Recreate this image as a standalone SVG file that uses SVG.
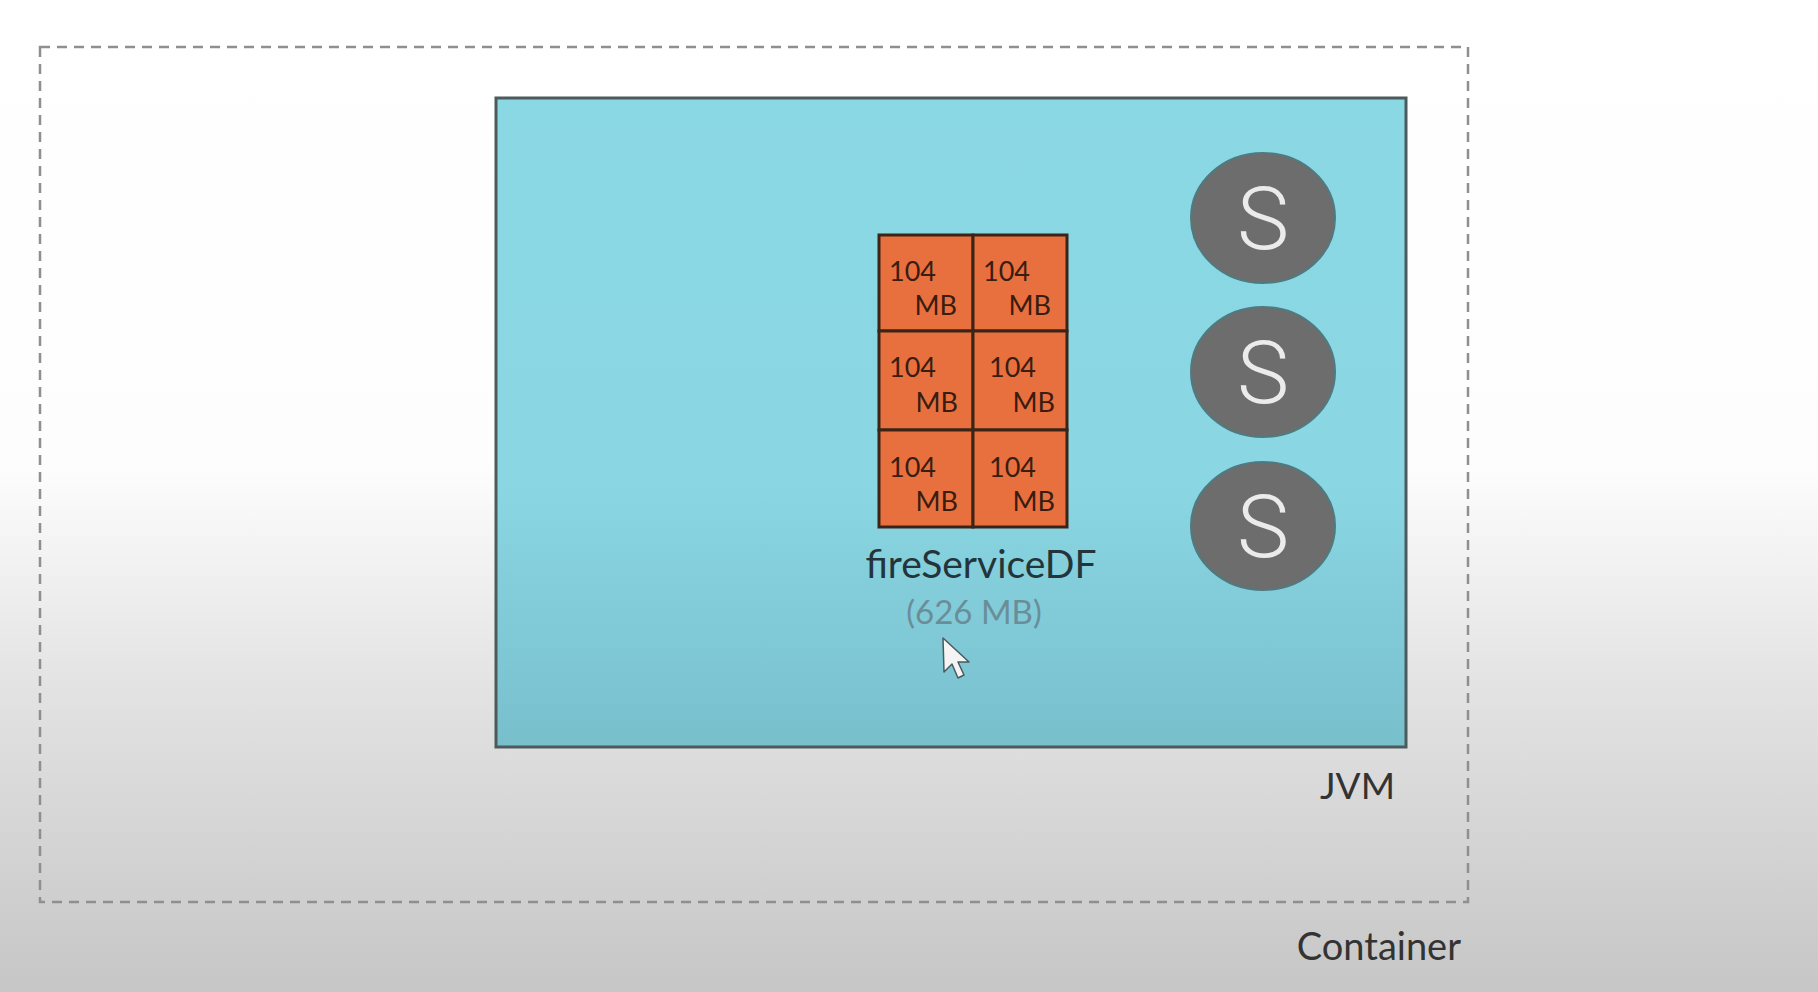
<svg xmlns="http://www.w3.org/2000/svg" width="1818" height="992" viewBox="0 0 1818 992">
<defs>
<linearGradient id="bg" x1="0" y1="0" x2="0" y2="992" gradientUnits="userSpaceOnUse">
<stop offset="0" stop-color="#ffffff"/>
<stop offset="0.47" stop-color="#fdfdfd"/>
<stop offset="0.7" stop-color="#e2e2e2"/>
<stop offset="1" stop-color="#c6c6c6"/>
</linearGradient>
<linearGradient id="jvmfill" x1="0" y1="98" x2="0" y2="748" gradientUnits="userSpaceOnUse">
<stop offset="0" stop-color="#8bd8e5"/>
<stop offset="0.6" stop-color="#8ad6e3"/>
<stop offset="1" stop-color="#78bfcc"/>
</linearGradient>
<style>
.lbl{font-family:Lato,"Open Sans","Liberation Sans",sans-serif;fill:#333333}
.cell{fill:#e8703f;stroke:#3b2417;stroke-width:3}
.ct{font-family:Lato,"Open Sans","Liberation Sans",sans-serif;font-size:27px;fill:#3a1d10}
.svc{fill:#6d6d6d;stroke:#4f7a80;stroke-width:2}
.st{font-family:Roboto,"Open Sans","Liberation Sans",sans-serif;font-weight:300;font-size:88px;fill:#ebebeb;text-anchor:middle}
</style>
</defs>
<rect x="0" y="0" width="1818" height="992" fill="url(#bg)"/>
<g id="container">
<rect x="40" y="47" width="1428" height="855" fill="none" stroke="#8f8f8f" stroke-width="2.5" stroke-dasharray="10,7"/>
<text class="lbl" x="1461" y="960" font-size="38" text-anchor="end">Container</text>
</g>
<g id="jvm">
<rect x="496" y="98" width="910" height="649" fill="url(#jvmfill)" stroke="#4d5a5c" stroke-width="3"/>
<text class="lbl" x="1395" y="799" font-size="37" text-anchor="end">JVM</text>
</g>
<g id="fireServiceDF">
<rect class="cell" x="879" y="235" width="94" height="96"/>
<rect class="cell" x="973" y="235" width="94" height="96"/>
<rect class="cell" x="879" y="331" width="94" height="99"/>
<rect class="cell" x="973" y="331" width="94" height="99"/>
<rect class="cell" x="879" y="430" width="94" height="97"/>
<rect class="cell" x="973" y="430" width="94" height="97"/>
<text class="ct" x="889" y="281">104</text>
<text class="ct" x="957" y="315" text-anchor="end">MB</text>
<text class="ct" x="983" y="281">104</text>
<text class="ct" x="1051" y="315" text-anchor="end">MB</text>
<text class="ct" x="889" y="377">104</text>
<text class="ct" x="958" y="412" text-anchor="end">MB</text>
<text class="ct" x="989" y="377">104</text>
<text class="ct" x="1055" y="412" text-anchor="end">MB</text>
<text class="ct" x="889" y="477">104</text>
<text class="ct" x="958" y="511" text-anchor="end">MB</text>
<text class="ct" x="989" y="477">104</text>
<text class="ct" x="1055" y="511" text-anchor="end">MB</text>
<text class="lbl" x="981" y="578" font-size="39" text-anchor="middle" fill="#23343a" style="fill:#23343a">fireServiceDF</text>
<text class="lbl" x="974" y="624" font-size="33" text-anchor="middle" style="fill:#6a8e98">(626 MB)</text>
</g>
<g id="service1">
<ellipse class="svc" cx="1263" cy="218" rx="72" ry="65"/>
<text class="st" x="1263" y="249">S</text>
</g>
<g id="service2">
<ellipse class="svc" cx="1263" cy="372" rx="72" ry="65"/>
<text class="st" x="1263" y="403">S</text>
</g>
<g id="service3">
<ellipse class="svc" cx="1263" cy="526" rx="72" ry="64"/>
<text class="st" x="1263" y="557">S</text>
</g>
<g id="connectors"></g>
<g id="cursor">
<polygon points="943,638 944,672 952,664 958,678 964,675 958,662 969,662" fill="#f4f4f4" stroke="#4a5a5e" stroke-width="1.5" stroke-linejoin="round"/>
</g>
</svg>
